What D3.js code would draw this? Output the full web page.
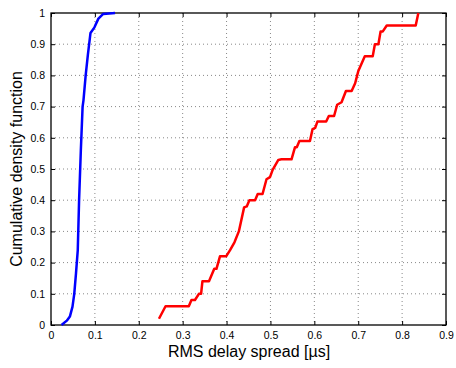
<!DOCTYPE html>
<html><head><meta charset="utf-8">
<script src="https://cdn.jsdelivr.net/npm/d3@7"></script>
<style>body{margin:0;background:#fff}svg{display:block}text{font-family:"Liberation Sans",Arial,sans-serif}</style>
</head><body><svg id="c" width="456" height="368"></svg>
<script>
const xTicks = [0,0.1,0.2,0.3,0.4,0.5,0.6,0.7,0.8,0.9];
const yTicks = [0,0.1,0.2,0.3,0.4,0.5,0.6,0.7,0.8,0.9,1];
const blueX = [0.024,0.036,0.043,0.049,0.053,0.057,0.061,0.064,0.068,0.072,0.074,0.079,0.084,0.090,0.099,0.108,0.119,0.146];
const blueY = [0,0.014,0.027,0.059,0.10,0.166,0.24,0.40,0.56,0.70,0.72,0.80,0.866,0.936,0.954,0.982,0.997,1.0];
const redX = [0.246,0.261,0.314,0.32,0.328,0.337,0.342,0.345,0.36,0.372,0.377,0.385,0.399,0.408,0.418,0.428,0.44,0.446,0.452,0.465,0.471,0.482,0.491,0.499,0.505,0.518,0.525,0.548,0.556,0.56,0.566,0.59,0.596,0.602,0.607,0.627,0.633,0.645,0.652,0.662,0.672,0.685,0.693,0.70,0.715,0.733,0.738,0.746,0.751,0.756,0.765,0.831,0.837];
const redY = [0.02,0.06,0.06,0.08,0.08,0.10,0.10,0.14,0.14,0.18,0.18,0.22,0.22,0.24,0.265,0.30,0.377,0.38,0.40,0.40,0.42,0.42,0.467,0.474,0.497,0.529,0.531,0.531,0.57,0.57,0.59,0.59,0.628,0.632,0.652,0.652,0.67,0.67,0.706,0.714,0.75,0.75,0.775,0.813,0.861,0.861,0.90,0.90,0.941,0.941,0.96,0.96,1.0];
const xLabel = "RMS delay spread [\u00b5s]";
const yLabel = "Cumulative density function";

const L=51, R=446, T=13, B=325;
const svg = d3.select("#c");
const x = d3.scaleLinear().domain([0,0.9]).range([L,R]);
const y = d3.scaleLinear().domain([0,1]).range([B,T]);

// grid
const g = svg.append("g");
xTicks.slice(1,-1).forEach(v=>g.append("line").attr("x1",x(v)).attr("x2",x(v)).attr("y1",T).attr("y2",B)
  .attr("stroke","#888").attr("stroke-width",1).attr("stroke-dasharray","1,3"));
yTicks.slice(1,-1).forEach(v=>g.append("line").attr("y1",y(v)).attr("y2",y(v)).attr("x1",L).attr("x2",R)
  .attr("stroke","#888").attr("stroke-width",1).attr("stroke-dasharray","1,3"));

// axes
const fmt = d=> d===0?"0":d===1?"1":d3.format(".1f")(d);
const ax = svg.append("g").attr("transform",`translate(0,${B})`).call(d3.axisBottom(x).tickValues(xTicks).tickFormat(fmt).tickSizeInner(-4).tickSizeOuter(0).tickPadding(7));
const axT = svg.append("g").attr("transform",`translate(0,${T})`).call(d3.axisTop(x).tickValues(xTicks).tickFormat("").tickSizeInner(-4).tickSizeOuter(0));
const ay = svg.append("g").attr("transform",`translate(${L},0)`).call(d3.axisLeft(y).tickValues(yTicks).tickFormat(fmt).tickSizeInner(-4).tickSizeOuter(0).tickPadding(6));
const ayR = svg.append("g").attr("transform",`translate(${R},0)`).call(d3.axisRight(y).tickValues(yTicks).tickFormat("").tickSizeInner(-4).tickSizeOuter(0));
[ax,axT,ay,ayR].forEach(a=>{a.select(".domain").remove();a.selectAll("line").attr("stroke","#000");a.selectAll("text").attr("font-size",10.5).attr("fill","#000").style("font-family","Liberation Sans, Arial, sans-serif");});
svg.append("rect").attr("x",L).attr("y",T).attr("width",R-L).attr("height",B-T).attr("fill","none").attr("stroke","#000").attr("stroke-width",1.3);

// lines
const line = d3.line().x(d=>x(d[0])).y(d=>y(d[1]));
svg.append("path").datum(blueX.map((v,i)=>[v,blueY[i]])).attr("d",line).attr("fill","none").attr("stroke","#0000ff").attr("stroke-width",2.5).attr("stroke-linejoin","round");
svg.append("path").datum(redX.map((v,i)=>[v,redY[i]])).attr("d",line).attr("fill","none").attr("stroke","#ff0000").attr("stroke-width",2.5).attr("stroke-linejoin","round");

// labels
svg.append("text").attr("x",249).attr("y",357).attr("text-anchor","middle").attr("font-size",16).text(xLabel);
svg.append("text").attr("transform",`translate(22,169) rotate(-90)`).attr("text-anchor","middle").attr("font-size",16).text(yLabel);
</script></body></html>
